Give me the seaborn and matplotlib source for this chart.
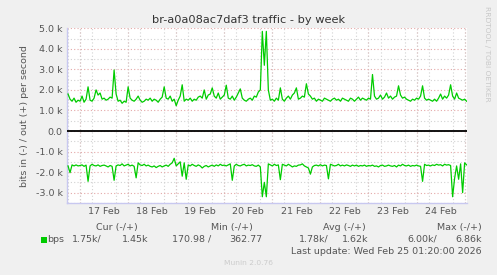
import numpy as np
import pandas as pd
import matplotlib
matplotlib.use("Agg")
import matplotlib.pyplot as plt
import matplotlib.dates as mdates
from matplotlib.ticker import FixedLocator, MultipleLocator, FuncFormatter
import seaborn as sns

# ---------------- data (k bits per second, hourly samples) ----------------
start_time = "2026-02-16 18:00"
out_k = [
    1.80, 1.55, 1.45, 1.60, 1.40, 1.50,
    1.45, 1.70, 1.40, 1.55, 2.15, 1.50, 1.45, 1.60, 2.00, 1.75, 1.85, 1.55,
    1.60, 1.50, 1.55, 1.65, 1.60, 2.97, 1.80, 1.45, 1.50, 1.35, 1.45, 1.40,
    2.15, 1.60, 1.50, 1.45, 1.55, 1.70, 1.50, 1.40, 1.45, 1.55, 1.50, 1.60,
    1.45, 1.55, 1.50, 1.40, 1.55, 1.65, 2.15, 1.60, 1.55, 1.70, 1.45, 1.55,
    1.23, 1.50, 1.70, 2.25, 1.45, 1.55, 1.50, 1.60, 1.45, 1.55, 1.50, 1.65,
    1.70, 1.60, 2.00, 1.55, 1.75, 1.80, 2.10, 1.70, 1.60, 1.85, 1.55, 1.65,
    1.75, 2.23, 1.60, 1.55, 1.70, 1.50, 1.65, 1.85, 2.05, 1.60, 1.50, 1.45,
    1.55, 1.60, 1.50, 1.70, 1.65, 1.90, 2.00, 4.85, 3.20, 4.85, 2.00, 1.50,
    1.55, 1.45, 1.60, 1.50, 2.10, 1.55, 1.45, 1.60, 1.70, 1.55, 1.75, 1.85,
    2.10, 1.55, 1.60, 1.70, 1.65, 2.30, 1.80, 1.70, 1.55, 1.60, 1.45, 1.55,
    1.50, 1.45, 1.60, 1.55, 1.50, 1.45, 1.55, 1.60, 1.50, 1.55, 1.45, 1.60,
    1.55, 1.50, 1.45, 1.60, 1.55, 1.45, 1.55, 1.65, 1.50, 1.60, 1.55, 1.50,
    1.60, 1.55, 2.75, 1.70, 1.55, 1.60, 1.75, 1.55, 1.65, 1.85, 1.60, 1.70,
    1.55, 1.65, 1.70, 2.20, 1.75, 1.60, 1.65, 1.55, 1.50, 1.45, 1.55, 1.50,
    1.60, 1.55, 1.70, 2.20, 1.60, 1.50, 1.55, 1.50, 1.45, 1.55, 1.45, 1.60,
    1.80, 1.55, 1.70, 1.60, 1.75, 2.25, 1.70, 1.55, 1.85, 1.60, 1.55, 1.50, 1.55, 1.45,
]
in_k = [
    -1.70, -2.03, -1.65, -1.70, -1.65, -1.70,
    -1.68, -1.65, -1.72, -1.66, -2.45, -1.70, -1.62, -1.68, -1.70, -1.65, -1.72, -1.68,
    -1.66, -1.70, -1.75, -1.68, -1.72, -2.40, -1.70, -1.65, -1.68, -1.60, -1.70, -1.66,
    -1.62, -1.70, -1.66, -1.72, -2.28, -1.55, -1.65, -1.68, -1.62, -1.70, -1.66, -1.72,
    -1.75, -1.70, -1.78, -1.72, -1.68, -1.75, -1.70, -1.66, -1.72, -1.62, -1.55, -1.33,
    -1.70, -1.60, -1.50, -2.20, -1.55, -2.35, -1.65, -1.70, -1.62, -1.68, -1.72, -1.65,
    -1.70, -1.80, -1.72, -1.68, -1.75, -1.70, -1.66, -1.72, -1.65, -1.70, -1.62, -1.68,
    -1.66, -1.70, -1.65, -1.60, -2.40, -1.70, -1.62, -1.68, -1.70, -1.65, -1.62, -1.70,
    -1.66, -1.68, -1.64, -1.70, -1.72, -1.66, -1.75, -3.20, -2.50, -3.20, -1.60, -1.65,
    -1.70, -1.62, -1.68, -1.65, -2.37, -1.62, -1.66, -1.70, -1.62, -1.68, -1.75, -1.70,
    -1.72, -1.66, -1.65, -1.60, -1.70, -1.75, -1.80, -2.10, -1.75, -1.68, -1.66, -1.70,
    -1.64, -1.70, -1.66, -1.68, -2.33, -1.62, -1.66, -1.70, -1.68, -1.62, -1.70, -1.66,
    -1.70, -1.65, -1.68, -1.72, -1.66, -1.70, -1.66, -1.72, -1.68, -1.70, -1.66, -1.72,
    -1.68, -1.70, -1.66, -1.72, -1.70, -1.75, -1.68, -1.66, -1.72, -1.70, -1.66, -1.70,
    -1.72, -1.68, -1.75, -1.66, -1.70, -1.62, -1.68, -1.70, -1.66, -1.72, -1.68, -1.70,
    -1.66, -1.70, -1.72, -2.45, -1.62, -1.68, -1.66, -1.70, -1.65, -1.68, -1.62, -1.66,
    -1.64, -1.70, -1.62, -1.66, -1.64, -1.68, -3.20, -2.30, -1.70, -2.35, -1.60, -3.00, -1.55, -1.65,
]
day_labels = ["17 Feb", "18 Feb", "19 Feb", "20 Feb", "21 Feb", "22 Feb", "23 Feb", "24 Feb"]
y_ticks_k = [-3, -2, -1, 0, 1, 2, 3, 4, 5]
legend_headers = ["Cur (-/+)", "Min (-/+)", "Avg (-/+)", "Max (-/+)"]
legend_values = ["1.75k/", "1.45k", "170.98 /", "362.77", "1.78k/", "1.62k", "6.00k/", "6.86k"]

times = pd.date_range(start_time, periods=len(out_k), freq="h")
df = pd.DataFrame({"time": times, "out": np.array(out_k) * 1000, "in": np.array(in_k) * 1000})

# ---------------- figure ----------------
plt.rcParams["font.family"] = ["DejaVu Sans"]
W, H = 497, 275
fig = plt.figure(figsize=(W / 100, H / 100), dpi=100, facecolor="#f0f0f0")
x0, x1, y0, y1 = 66.7, 467.3, 28.3, 202.9
ax = fig.add_axes([x0 / W, 1 - y1 / H, (x1 - x0) / W, (y1 - y0) / H])
ax.set_facecolor("white")

GREEN = "#00cc00"
sns.lineplot(data=df, x="time", y="out", color=GREEN, linewidth=0.9, ax=ax, zorder=5)
sns.lineplot(data=df, x="time", y="in", color=GREEN, linewidth=0.9, ax=ax, zorder=5)
ax.axhline(0, color="black", linewidth=1.3, zorder=6)

xmin = pd.Timestamp("2026-02-16 17:20")
xmax = pd.Timestamp("2026-02-25 01:20")
ax.set_xlim(xmin, xmax)
ax.set_ylim(-3500, 5000)

# grid
red = "#e4a8a8"
gray = "#d2d2d2"
dots = (0, (1, 2))
ax.yaxis.set_major_locator(FixedLocator([v * 1000 for v in y_ticks_k]))
ax.yaxis.set_minor_locator(MultipleLocator(500))
ax.yaxis.set_major_formatter(FuncFormatter(lambda v, p: "0.0" if abs(v) < 1e-6 else f"{v/1000:.1f} k"))
ax.grid(axis="y", which="major", color=red, linestyle=dots, linewidth=0.8)
ax.grid(axis="y", which="minor", color=gray, linestyle=dots, linewidth=0.8)

noon_ticks = pd.date_range("2026-02-17 12:00", periods=len(day_labels), freq="D")
ax.xaxis.set_major_locator(FixedLocator(mdates.date2num(noon_ticks)))
ax.set_xticklabels(day_labels)
ax.xaxis.set_minor_locator(mdates.HourLocator(byhour=[0, 6, 12, 18]))
ax.grid(axis="x", which="minor", color=gray, linestyle=dots, linewidth=0.8)
for d in pd.date_range("2026-02-17", "2026-02-25", freq="D"):
    ax.axvline(d, color=red, linestyle=dots, linewidth=0.8, zorder=1)

for s in ["top", "right"]:
    ax.spines[s].set_visible(False)
for s in ["left", "bottom"]:
    ax.spines[s].set_color("#c8c8f0")
    ax.spines[s].set_linewidth(1.0)
ax.tick_params(axis="both", which="both", length=0, labelsize=6.8, colors="#555555", pad=3)
ax.set_xlabel("")
ax.set_ylabel("bits in (-) / out (+) per second", fontsize=6.8, color="#555555", labelpad=5)

# title and side text
fig.text(248.5 / W, 1 - 20 / H, "br-a0a08ac7daf3 traffic - by week", ha="center", va="center",
         fontsize=8.2, color="#333333")
fig.text(487 / W, 1 - 6 / H, "RRDTOOL / TOBI OETIKER", rotation=270, ha="center", va="top",
         fontsize=5.4, color="#c8c8c8")

# legend block
TC = "#555555"
fs = 6.8
hdr_y = 1 - 227.7 / H
for label, cx in zip(legend_headers, [117, 232, 344.5, 459.5]):
    fig.text(cx / W, hdr_y, label, ha="center", va="center", fontsize=fs, color=TC)
row_y = 1 - 239.5 / H
fig.patches.append(plt.Rectangle((41 / W, row_y - 3 / H), 6 / W, 6 / H, transform=fig.transFigure,
                                 facecolor=GREEN, edgecolor="none"))
fig.text(47 / W, row_y, "bps", ha="left", va="center", fontsize=fs, color=TC)
right_edges = [102, 148, 211, 262, 329, 368, 437, 482]
for txt, rx in zip(legend_values, right_edges):
    fig.text(rx / W, row_y, txt, ha="right", va="center", fontsize=fs, color=TC)
fig.text(482 / W, 1 - 251 / H, "Last update: Wed Feb 25 01:20:00 2026", ha="right", va="center",
         fontsize=fs, color=TC)
fig.text(248 / W, 1 - 263 / H, "Munin 2.0.76", ha="center", va="center", fontsize=5.4, color="#cccccc")

fig.savefig("out.png", dpi=100, facecolor=fig.get_facecolor())
